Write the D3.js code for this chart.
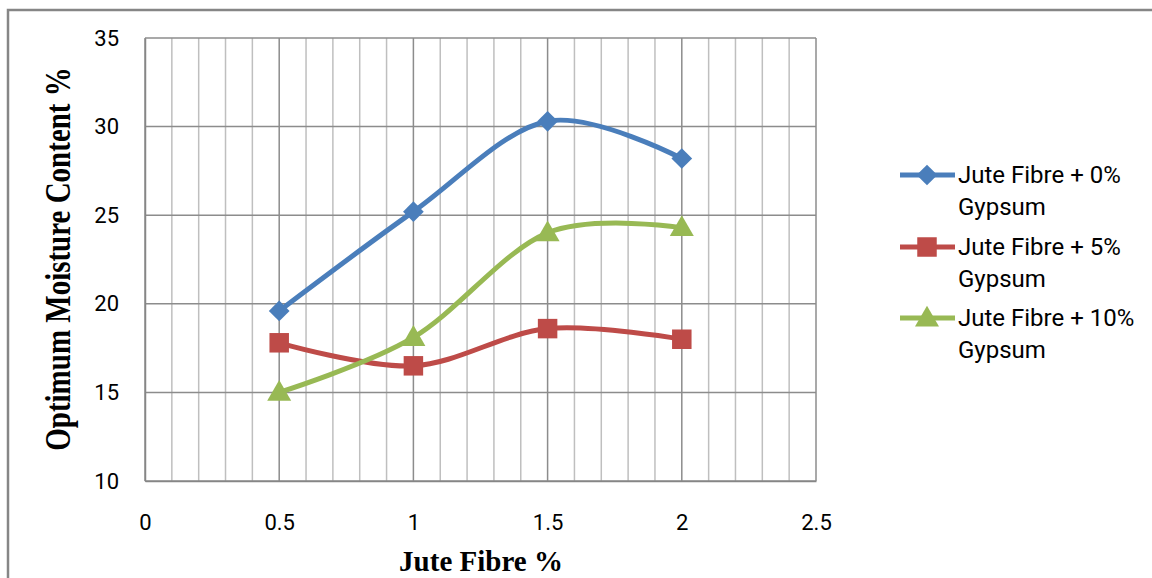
<!DOCTYPE html>
<html><head><meta charset="utf-8">
<script src="https://cdn.jsdelivr.net/npm/d3@7"></script>
<style>body{margin:0;background:#fff}svg{display:block}</style>
</head><body><svg id="c" width="1152" height="578"></svg>
<script>
const xValues = [0.5, 1, 1.5, 2];
const seriesNames = ["Jute Fibre + 0%", "Jute Fibre + 5%", "Jute Fibre + 10%"];
const seriesGypsum = ["Gypsum", "Gypsum", "Gypsum"];
const gypsum0 = [19.6, 25.2, 30.3, 28.2];
const gypsum5 = [17.8, 16.5, 18.6, 18.0];
const gypsum10 = [15.0, 18.1, 24.0, 24.3];
const seriesColors = ["#4a7ebb", "#be4b48", "#98b954"];
const xTicks = [0, 0.5, 1, 1.5, 2, 2.5];
const yTicks = [10, 15, 20, 25, 30, 35];
const xMinor = d3.range(0, 26).map(i => i / 10);

const svg = d3.select("#c");
const x = d3.scaleLinear().domain([0, 2.5]).range([145, 816]);
const y = d3.scaleLinear().domain([10, 35]).range([481, 38]);

// marker shapes
const markerSymbols = [
  { type: d3.symbolSquare, size: 215, rotate: 45, dy: 0 },
  { type: d3.symbolSquare, size: 380, rotate: 0, dy: 0 },
  { type: d3.symbolTriangle, size: 250, rotate: 0, dy: 1.5 }
];
const sansFont = "Roboto, 'Liberation Sans', sans-serif";
const serifFont = "'Liberation Serif', 'Times New Roman', serif";

// outer border
svg.append("path").attr("d", "M8,578 V10 H1152").attr("fill", "none").attr("stroke", "#868686").attr("stroke-width", 2.5);

// minor vertical gridlines
svg.append("g").selectAll("line").data(xMinor.filter(v => Math.round(v * 10) % 5 !== 0)).join("line")
  .attr("x1", d => x(d)).attr("x2", d => x(d)).attr("y1", y(35)).attr("y2", y(10))
  .attr("stroke", "#bfbfbf").attr("stroke-width", 1.5);
// major vertical gridlines
svg.append("g").selectAll("line").data(xTicks).join("line")
  .attr("x1", d => x(d)).attr("x2", d => x(d)).attr("y1", y(35)).attr("y2", y(10))
  .attr("stroke", "#8c8c8c").attr("stroke-width", 1.5);
// horizontal gridlines
svg.append("g").selectAll("line").data(yTicks).join("line")
  .attr("x1", x(0)).attr("x2", x(2.5)).attr("y1", d => y(d)).attr("y2", d => y(d))
  .attr("stroke", "#8c8c8c").attr("stroke-width", 1.5);

// axes
const xAxis = svg.append("g").attr("transform", `translate(0,${y(10)})`)
  .call(d3.axisBottom(x).tickValues(xTicks).tickSize(0).tickPadding(33).tickFormat(d => String(d)));
const yAxis = svg.append("g").attr("transform", `translate(${x(0)},0)`)
  .call(d3.axisLeft(y).tickValues(yTicks).tickSize(0).tickPadding(26).tickFormat(d => String(d)));
[xAxis, yAxis].forEach(a => {
  a.select(".domain").attr("stroke", "#868686").attr("stroke-width", 1.5);
  a.selectAll("text").attr("font-family", sansFont).attr("font-size", 22).attr("fill", "#000");
});

// series
const allSeries = [gypsum0, gypsum5, gypsum10];
const line = d3.line().x((d, i) => x(xValues[i])).y(d => y(d)).curve(d3.curveCardinal.tension(0));
allSeries.forEach((vals, si) => {
  svg.append("path").datum(vals).attr("d", line).attr("fill", "none")
    .attr("stroke", seriesColors[si]).attr("stroke-width", 5).attr("stroke-linejoin", "round");
});
allSeries.forEach((vals, si) => {
  const m = markerSymbols[si];
  svg.append("g").selectAll("path").data(vals).join("path")
    .attr("transform", (d, i) => `translate(${x(xValues[i])},${y(d) + m.dy}) rotate(${m.rotate})`)
    .attr("d", d3.symbol().type(m.type).size(m.size))
    .attr("fill", seriesColors[si]);
});

// legend
const legY = [175, 247, 318];
seriesNames.forEach((n, si) => {
  const m = markerSymbols[si];
  const g = svg.append("g").attr("transform", `translate(0,${legY[si]})`);
  g.append("line").attr("x1", 900).attr("x2", 955).attr("y1", 0).attr("y2", 0)
    .attr("stroke", seriesColors[si]).attr("stroke-width", 5);
  g.append("path").attr("transform", `translate(927,${m.dy}) rotate(${m.rotate})`)
    .attr("d", d3.symbol().type(m.type).size(m.size)).attr("fill", seriesColors[si]);
  g.append("text").attr("x", 958).attr("y", 8).text(n)
    .attr("font-family", sansFont).attr("font-size", 24).attr("fill", "#000");
  g.append("text").attr("x", 958).attr("y", 40).text(seriesGypsum[si])
    .attr("font-family", sansFont).attr("font-size", 24).attr("fill", "#000");
});

// axis titles
svg.append("text").attr("x", 481).attr("y", 571).attr("text-anchor", "middle")
  .attr("font-family", serifFont).attr("font-weight", "bold").attr("font-size", 29)
  .text("Jute Fibre %");
svg.append("text").attr("transform", "translate(70,259) rotate(-90) scale(1,1.2)").attr("text-anchor", "middle")
  .attr("font-family", serifFont).attr("font-weight", "bold").attr("font-size", 29)
  .text("Optimum Moisture Content  %");
</script></body></html>
